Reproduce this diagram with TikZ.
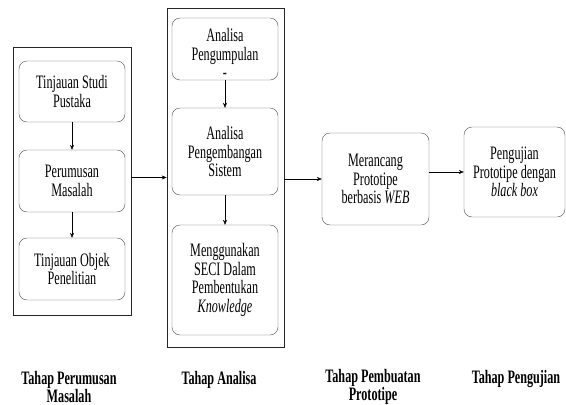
\documentclass[tikz,border=0pt]{standalone}
\usepackage{fontspec}
\setmainfont{Liberation Serif}[FakeStretch=0.64]
\usetikzlibrary{arrows.meta}

\begin{document}
\begin{tikzpicture}[x=1pt,y=-1pt,>={Stealth[length=5pt,width=4pt]},
  langkah/.style={draw=black!70,rounded corners=8pt,align=center,
    font=\fontsize{19}{18.5}\selectfont,inner sep=1pt,minimum width=106},
  blok/.style={draw=black!85,line width=0.6pt},
  judul/.style={font=\fontsize{19}{17.5}\selectfont\bfseries,align=center}]
  \useasboundingbox (0,0) rectangle (566,405);

  % outer frames of the first two stages
  \node[blok,minimum width=118,minimum height=268] (blokA) at (72,181) {};
  \node[blok,minimum width=117,minimum height=339] (blokB) at (225.5,177.5) {};

  \node[langkah,minimum height=61] (studi) at (72,91.5)
    {Tinjauan Studi\\Pustaka};
  \node[langkah,minimum height=62] (rumus) at (72,181)
    {Perumusan\\Masalah};
  \node[langkah,minimum height=62] (objek) at (72,269)
    {Tinjauan Objek\\Penelitian};

  % text sits a little low in this box
  \node[langkah,minimum height=62] (kumpul) at (225,49)
    {\rule{0pt}{22pt}Analisa\\Pengumpulan\\-};
  \node[langkah,minimum height=87] (kembang) at (225,151.5)
    {Analisa\\Pengembangan\\Sistem};
  \node[langkah,minimum height=110] (seci) at (225,280)
    {Menggunakan\\SECI Dalam\\Pembentukan\\\textit{Knowledge}};

  \node[langkah,minimum width=107,minimum height=92] (rancang) at (375.5,179)
    {Merancang\\Prototipe\\berbasis \textit{WEB}};
  \node[langkah,minimum width=101,minimum height=90] (uji) at (514.5,172)
    {Pengujian\\Prototipe dengan\\\textit{black box}};

  \draw[->] (studi) -- (rumus);
  \draw[->] (rumus) -- (objek);
  \draw[->] (kumpul) -- (kembang);
  \draw[->] (kembang) -- (seci);
  \draw[->] (blokA.east |- blokB.west) -- (blokB.west);
  \draw[->] (blokB.east |- rancang.west) -- (rancang.west);
  \draw[->] (rancang.east |- uji.west) -- (uji.west);

  \node[judul] (tahapA) at (69,387) {Tahap Perumusan\\Masalah};
  \node[judul] (tahapB) at (219,380) {Tahap Analisa};
  \node[judul] (tahapC) at (373,387) {Tahap Pembuatan\\Prototipe};
  \node[judul] (tahapD) at (516,379) {Tahap Pengujian};
\end{tikzpicture}
\end{document}
